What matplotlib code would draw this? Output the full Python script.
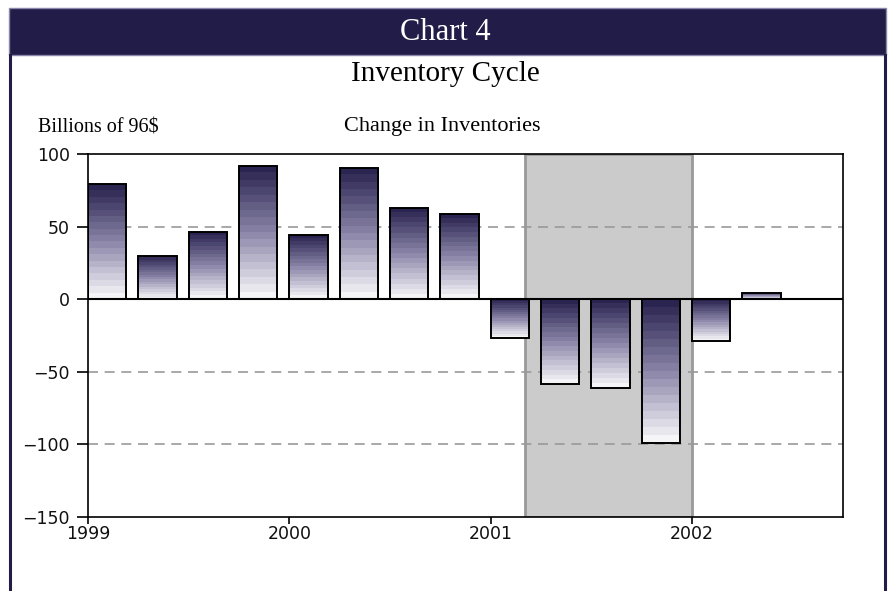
import numpy as np
import matplotlib
matplotlib.use("Agg")
import matplotlib.pyplot as plt
from matplotlib.colors import LinearSegmentedColormap
from matplotlib.patches import Rectangle
from matplotlib.lines import Line2D

# ---- data ----
quarters = [1999.0, 1999.25, 1999.5, 1999.75,
            2000.0, 2000.25, 2000.5, 2000.75,
            2001.0, 2001.25, 2001.5, 2001.75,
            2002.0, 2002.25]
values = [79, 30, 46.5, 92, 44.5, 90.5, 63, 59,
          -26.5, -58.5, -61.5, -99, -28.5, 4.5]
recession = (2001.17, 2002.0)
year_ticks = [1999, 2000, 2001, 2002]
year_labels = ["1999", "2000", "2001", "2002"]
y_ticks = [-150, -100, -50, 0, 50, 100]
y_labels = ["\u2212150", "\u2212100", "\u221250", "0", "50", "100"]

W, H = 891, 591
fig = plt.figure(figsize=(W / 100, H / 100), dpi=100)
navy = "#221c48"

# header band and frame
band_top, band_bot = 8, 55
fig.patches.append(Rectangle((9 / W, 1 - band_bot / H), (886 - 9) / W, (band_bot - band_top) / H,
                             transform=fig.transFigure, facecolor=navy,
                             edgecolor="#8a86aa", linewidth=1, zorder=0))
fig.lines.append(Line2D([10 / W, 10 / W], [0, 1 - band_bot / H], transform=fig.transFigure,
                        color=navy, linewidth=2.2))
fig.lines.append(Line2D([885 / W, 885 / W], [0, 1 - band_bot / H], transform=fig.transFigure,
                        color=navy, linewidth=2.2))

serif = "Liberation Serif"
fig.text(0.5, 1 - 32 / H, "Chart 4", color="white", fontsize=22, family=serif,
         ha="center", va="center")
fig.text(0.5, 1 - 74 / H, "Inventory Cycle", color="black", fontsize=21, family=serif,
         ha="center", va="center")
fig.text(0.4966, 1 - 127 / H, "Change in Inventories", color="black", fontsize=16, family=serif,
         ha="center", va="center")
fig.text(38 / W, 1 - 128 / H, r"Billions of 96\$", color="black", fontsize=14.5, family=serif,
         ha="left", va="center")

left, right, top, bottom = 88, 843, 154, 517
ax = fig.add_axes([left / W, 1 - bottom / H, (right - left) / W, (bottom - top) / H])

xmin, xmax = 1999.0, 2002.75
ymin, ymax = -150, 100

# recession shading
ax.add_patch(Rectangle((recession[0], ymin), recession[1] - recession[0], ymax - ymin,
                       facecolor="#cbcbcb", edgecolor="#999999", linewidth=2, zorder=1))

# grid lines
for g in [50, -50, -100]:
    ax.axhline(g, color="#999999", linestyle=(0, (6, 4)), linewidth=1.2, zorder=2)

cmap = LinearSegmentedColormap.from_list("inv", ["#f5f5f8", "#8a85a8", "#2a2450"])
bar_w = 0.19
bars = ax.bar(quarters, values, width=bar_w, align="edge", facecolor="none",
              edgecolor="black", linewidth=1.4, zorder=4)
grad = np.linspace(1, 0, 18).reshape(-1, 1)
for q, v, p in zip(quarters, values, bars.patches):
    im = ax.imshow(grad, extent=(q, q + bar_w, min(0, v), max(0, v)), origin="upper",
                   aspect="auto", cmap=cmap, vmin=0, vmax=1, interpolation="nearest", zorder=3)
    im.set_clip_path(p)

ax.axhline(0, color="black", linewidth=1.5, zorder=5)

ax.set_xlim(xmin, xmax)
ax.set_ylim(ymin, ymax)
ax.set_aspect("auto")
ax.set_xticks(year_ticks)
ax.set_xticklabels(year_labels)
ax.set_yticks(y_ticks)
ax.set_yticklabels(y_labels)
ax.tick_params(axis="y", direction="out", length=8, width=1.2, pad=5, labelsize=12.5)
ax.tick_params(axis="x", direction="out", length=5, width=1.2, pad=1, labelsize=12.5)
for lab in ax.get_xticklabels() + ax.get_yticklabels():
    lab.set_family("DejaVu Sans")
    lab.set_color("#111111")
for s in ax.spines.values():
    s.set_linewidth(1.2)
    s.set_color("black")
    s.set_zorder(6)

fig.savefig("out.png", dpi=100)
